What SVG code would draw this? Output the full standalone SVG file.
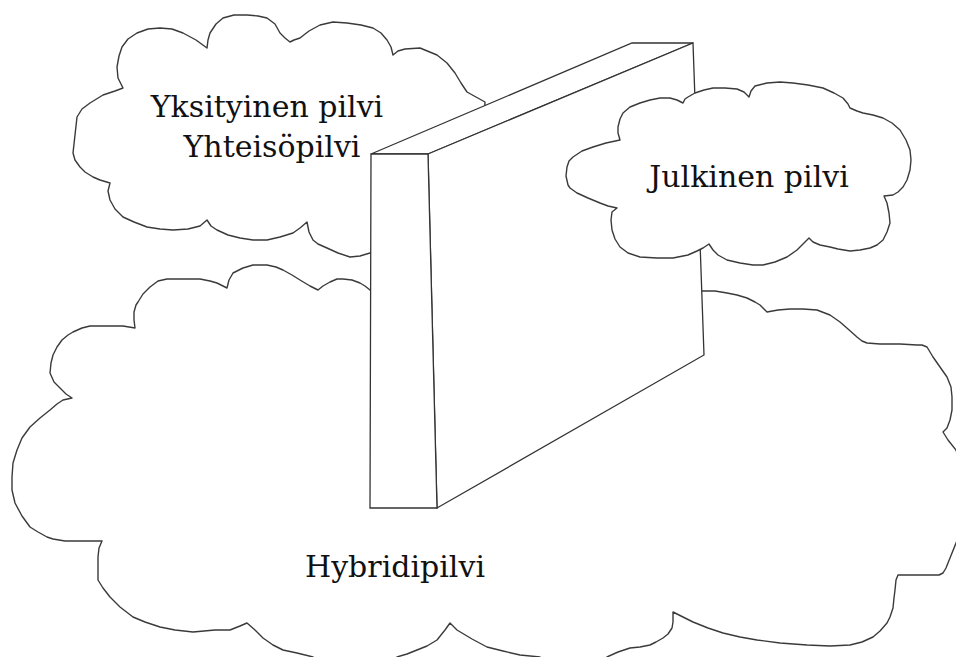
<svg xmlns="http://www.w3.org/2000/svg" width="956" height="657" viewBox="0 0 956 657">
<style>
.cl{fill:#fff;stroke:#3a3a3a;stroke-width:1.4;stroke-linejoin:round}
.wl{fill:#fff;stroke:#333;stroke-width:1.3;stroke-linejoin:miter}
.lb{font-family:"DejaVu Serif","Liberation Serif",serif;font-size:30px;fill:#111;text-anchor:middle}
</style>
<rect width="956" height="657" fill="#fff"/>
<g id="cloud-hybrid">
<polygon class="cl" points="702,291 715,291 727,293 737,295 747,298 755,302 760,305 765,310 767,312 778,310 790,309 803,309 817,310 830,315 840,322 848,329 857,337 862,341 867,343 880,344 900,344 917,345 922,345 927,347 933,357 940,367 947,377 951,387 952,397 952,410 950,420 947,428 943,432 948,440 956,450 962,470 962,530 956,543 950,558 946,568 943,573 939,575 920,575 898,575 896,580 895,590 894,598 893,608 890,617 887,623 880,631 873,637 862,642 850,645 830,646 807,645 780,643 757,640 740,637 723,633 708,628 693,622 673,612 673,622 672,628 668,634 663,638 656,642 650,645 640,647 630,648 618,652 607,657 600,665 545,665 540,657 520,655 503,651 487,647 472,639 457,630 450,623 445,630 437,640 427,646 417,650 407,654 397,657 390,665 320,665 313,657 297,653 283,650 273,645 263,638 255,630 247,623 240,626 230,630 215,630 193,632 175,630 160,627 145,622 133,617 120,607 110,597 103,588 98,580 98,568 98,557 99,548 102,541 85,541 65,541 53,539 47,537 38,532 30,527 22,516 15,503 12,490 12,477 13,463 17,450 22,438 30,427 40,418 50,410 57,404 63,400 72,398 66,394 60,388 54,382 50,373 51,363 53,355 57,347 62,340 68,335 73,332 82,328 90,326 105,326 123,326 135,328 134,320 134,312 136,305 138,302 143,294 150,287 158,281 167,279 183,279 200,279 210,281 217,283 227,288 229,280 233,273 243,268 253,265 267,265 276,267 283,270 292,275 300,280 310,286 318,290 323,286 330,282 337,279 343,279 352,280 360,283 365,286 370,290 400,300 650,300"/>
<text class="lb" x="395" y="577">Hybridipilvi</text>
</g>
<g id="cloud-private">
<polygon class="cl" points="73,153 75,135 77,117 82,109 90,103 103,95 115,91 123,88 118,78 117,67 119,56 122,47 128,39 137,33 148,29 160,28 172,29 183,33 196,40 207,48 208,40 210,33 216,24 223,18 234,15 247,15 258,16 267,18 275,24 280,33 285,38 290,42 294,40 300,38 309,31 320,25 333,22 347,23 361,25 373,28 381,33 387,40 391,47 393,55 398,51 405,49 420,48 437,55 447,63 455,73 461,83 467,92 476,97 485,102 480,200 380,250 370,253 360,256 350,257 338,253 327,248 318,244 313,240 309,232 307,222 300,228 293,233 280,237 267,240 253,240 240,238 228,235 217,230 211,226 207,220 200,226 188,229 173,230 160,229 147,227 134,222 123,217 115,209 110,200 108,191 110,183 100,180 93,177 85,172 80,167 75,160"/>
<text class="lb" x="267" y="117">Yksityinen pilvi</text>
<text class="lb" x="272" y="157">Yhteisöpilvi</text>
</g>
<g id="wall">
<polygon class="wl" points="371,154 632,43 693,43 428,154"/>
<polygon class="wl" points="428,154 693,43 704,355 437,508"/>
<polygon class="wl" points="371,154 428,154 437,508 370,508"/>
</g>
<g id="cloud-public">
<polygon class="cl" points="695,93 704,90 713,88 725,88 737,89 744,92 749,97 751,91 755,86 767,83 780,82 793,83 808,85 823,88 834,93 843,98 848,104 850,108 857,111 863,113 873,115 883,118 892,123 900,130 906,140 910,150 911,160 910,170 907,180 903,187 898,192 893,195 884,196 887,203 889,213 890,223 887,232 883,240 877,245 870,248 860,250 850,251 838,249 830,247 820,245 813,242 809,238 803,244 797,250 787,257 775,262 763,265 753,265 740,263 727,260 718,255 713,250 709,244 703,248 697,251 688,255 673,258 657,258 640,257 628,253 620,247 615,239 612,230 611,220 612,212 617,208 608,206 600,203 588,198 577,193 570,188 568,185 566,176 567,167 569,161 573,157 582,151 593,147 606,143 620,140 618,133 618,127 620,119 623,113 630,107 640,103 650,100 660,98 670,98 677,100 683,103 685,99 688,97"/>
<text class="lb" x="749" y="187">Julkinen pilvi</text>
</g>
<g id="connectors"/>
</svg>
